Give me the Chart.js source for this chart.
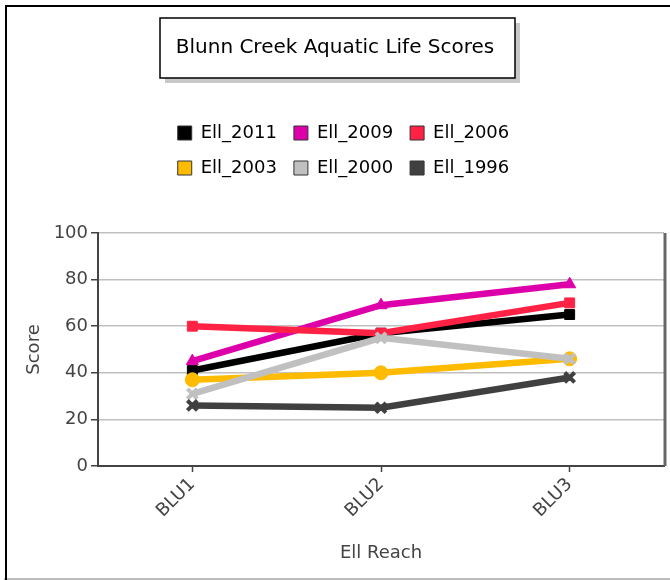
<!DOCTYPE html>
<html>
<head>
<meta charset="utf-8">
<script src="https://cdn.jsdelivr.net/npm/chart.js@4"></script>
<style>
  html, body { margin: 0; padding: 0; background: #fff; }
  #wrap { width: 670px; height: 580px; position: relative; }
</style>
</head>
<body>
<div id="wrap"><canvas id="c" width="670" height="580"></canvas></div>
<script>
const chartTitle = 'Blunn Creek Aquatic Life Scores';
const categories = ['BLU1', 'BLU2', 'BLU3'];
const seriesNames = ['Ell_2011', 'Ell_2009', 'Ell_2006', 'Ell_2003', 'Ell_2000', 'Ell_1996'];
const ell2011 = [41, 57, 65];
const ell2009 = [45, 69, 78];
const ell2006 = [60, 57, 70];
const ell2003 = [37, 40, 46];
const ell2000 = [31, 55, 46];
const ell1996 = [26, 25, 38];
const yTicks = [0, 20, 40, 60, 80, 100];
const xAxisTitle = 'Ell Reach';
const yAxisTitle = 'Score';

const seriesValues = [ell2011, ell2009, ell2006, ell2003, ell2000, ell1996];
const seriesColors = ['#000000', '#dd00aa', '#ff2244', '#ffbb00', '#c0c0c0', '#404040'];
const seriesPoints = ['rect', 'triangle', 'rect', 'circle', 'crossRot', 'crossRot'];

const FONT = "'DejaVu Sans', sans-serif";

const datasets = seriesNames.map((name, i) => ({
  label: name,
  data: seriesValues[i],
  borderColor: seriesColors[i],
  backgroundColor: seriesColors[i],
  pointBackgroundColor: seriesColors[i],
  pointBorderColor: seriesColors[i],
  pointStyle: seriesPoints[i],
  pointRadius: 7,
  pointBorderWidth: seriesPoints[i] === 'crossRot' ? 4 : 1,
  borderWidth: 6.5,
  tension: 0,
  fill: false,
  order: seriesNames.length - i
}));

const decorPlugin = {
  id: 'decor',
  afterDraw(chart) {
    const ctx = chart.ctx;
    const ca = chart.chartArea;
    ctx.save();
    // plot right border
    ctx.strokeStyle = '#666';
    ctx.lineWidth = 3;
    ctx.beginPath();
    ctx.moveTo(ca.right + 1, ca.top);
    ctx.lineTo(ca.right + 1, ca.bottom);
    ctx.stroke();
    // outer frame
    ctx.strokeStyle = '#bbb';
    ctx.lineWidth = 2;
    ctx.beginPath();
    ctx.moveTo(4, 579);
    ctx.lineTo(670, 579);
    ctx.stroke();
    ctx.strokeStyle = '#000';
    ctx.lineWidth = 2;
    ctx.beginPath();
    ctx.moveTo(6, 580);
    ctx.lineTo(6, 6);
    ctx.lineTo(670, 6);
    ctx.stroke();
    ctx.restore();
  },
  beforeDraw(chart) {
    const ctx = chart.ctx;
    ctx.save();
    // title box shadow
    ctx.fillStyle = '#c8c8c8';
    ctx.fillRect(165, 23, 355, 60);
    ctx.fillStyle = '#fff';
    ctx.fillRect(160, 18, 355, 60);
    ctx.strokeStyle = '#000';
    ctx.lineWidth = 1.5;
    ctx.strokeRect(160, 18, 355, 60);
    ctx.restore();
  }
};

// three legend items per row, and extra height so the plot starts lower
const LEGEND_W = 380;
const legendExtra = {
  id: 'legendExtra',
  beforeInit(chart) {
    const lg = chart.legend;
    if (lg) {
      const origFit = lg.fit;
      lg.fit = function () {
        this.maxWidth = Math.min(this.maxWidth, LEGEND_W);
        origFit.call(this);
        this.height += 46;
      };
      const origDraw = lg.draw;
      lg.draw = function () {
        const l = this.left, r = this.right;
        const left = 153.5;
        this.left = left;
        this.right = left + LEGEND_W;
        origDraw.call(this);
        this.left = l;
        this.right = r;
      };
    }
  }
};

new Chart(document.getElementById('c'), {
  type: 'line',
  data: { labels: categories, datasets },
  plugins: [decorPlugin, legendExtra],
  options: {
    responsive: false,
    animation: false,
    devicePixelRatio: 1,
    layout: { autoPadding: false, padding: { left: 0, right: 0, top: 0, bottom: 0 } },
    plugins: {
      tooltip: { enabled: false },
      title: {
        display: true,
        text: chartTitle,
        color: '#000',
        font: { family: FONT, size: 20, weight: 'normal' },
        padding: { top: 36, bottom: 47 }
      },
      legend: {
        display: true,
        position: 'top',
        labels: {
          font: { family: FONT, size: 18 },
          color: '#000',
          boxWidth: 14,
          boxHeight: 14,
          padding: 17,
          sort: (a, b) => a.datasetIndex - b.datasetIndex,
          generateLabels(chart) {
            return chart.data.datasets.map((ds, i) => ({
              text: ds.label,
              fillStyle: ds.backgroundColor,
              strokeStyle: '#333',
              lineWidth: 1,
              hidden: false,
              datasetIndex: i,
              fontColor: '#000'
            }));
          }
        }
      }
    },
    scales: {
      x: {
        type: 'category',
        offset: true,
        afterFit(scale) {
          scale.height = 114;
          scale.paddingLeft = 0;
          scale.paddingRight = 6;
        },
        grid: { display: true, drawOnChartArea: false, drawTicks: true, tickLength: 6, tickColor: '#444', tickWidth: 1.5 },
        border: { display: true, color: '#444', width: 2 },
        ticks: {
          color: '#444',
          font: { family: FONT, size: 18 },
          minRotation: 45,
          maxRotation: 45,
          padding: 2
        },
        title: {
          display: true,
          text: xAxisTitle,
          color: '#444',
          font: { family: FONT, size: 18 },
          padding: { top: 0, bottom: 16 }
        }
      },
      y: {
        min: 0,
        max: 100,
        afterFit(scale) { scale.width = 98; },
        afterBuildTicks(scale) { scale.ticks = yTicks.map(v => ({ value: v })); },
        grid: { color: '#c0c0c0', lineWidth: 1.5, tickLength: 7, tickColor: '#444', tickWidth: 1.5 },
        border: { display: true, color: '#444', width: 2 },
        ticks: {
          color: '#444',
          font: { family: FONT, size: 18 },
          padding: 3
        },
        title: {
          display: true,
          text: yAxisTitle,
          color: '#444',
          font: { family: FONT, size: 18 },
          padding: { top: 24, bottom: 0 }
        }
      }
    }
  }
});
</script>
</body>
</html>
